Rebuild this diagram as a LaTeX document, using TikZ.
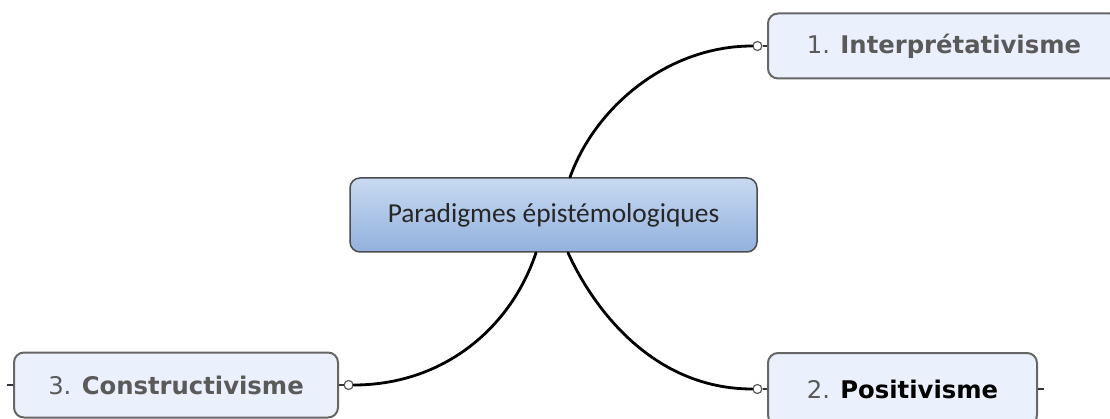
\documentclass[tikz,border=0pt]{standalone}
\usepackage{fontspec}
\setmainfont{DejaVu Sans}
\newfontfamily\hubfont{Carlito}
\usetikzlibrary{positioning,calc,shapes.geometric}
\definecolor{hubtop}{HTML}{C8DAF1}
\definecolor{hubbottom}{HTML}{92B1DD}
\definecolor{leafback}{HTML}{EAF1FD}
\definecolor{numgray}{HTML}{5A5A5A}

\begin{document}
\begin{tikzpicture}[x=1pt,y=-1pt,
	hub/.style={draw=black!70, line width=1.5pt, rounded corners=10pt, top color=hubtop, bottom color=hubbottom, minimum width=407pt, minimum height=74pt, inner sep=0pt, font=\hubfont\fontsize{27.4}{30}\selectfont, text=black!85},
	leaf/.style={draw=black!60, line width=2pt, rounded corners=10pt, fill=leafback, minimum height=65pt, inner sep=0pt, font=\fontsize{24.3}{28}\selectfont, text=numgray},
	knob/.style={circle, draw=black!65, fill=white, line width=1.2pt, minimum size=9pt, inner sep=0pt},
	branch/.style={line width=2.8pt, line cap=round},
	stub/.style={line width=1.5pt, black!80}]
				\useasboundingbox (0,0) rectangle (1110,419);\clip (0,0) rectangle (1110,419);
				\node[hub] (hub) at (553.5,215) {Paradigmes épistémologiques};
				\node[leaf, minimum width=352pt] (interp) at (944,46) {1. \textbf{Interprétativisme}};
				\node[leaf, minimum width=269pt, minimum height=72pt] (posit) at (902.5,389) {2. \textbf{\color{black}Positivisme}};
				\node[leaf, minimum width=324pt] (constr) at (176,385) {3. \textbf{Constructivisme}};
				\node[knob, left=4.5pt of interp.west] (k1) {};\node[knob, left=4.5pt of posit.west] (k2) {};\node[knob, right=4.5pt of constr.east] (k3) {};
				\draw[stub] (k1) -- (interp.west);\draw[stub] (k2) -- (posit.west);\draw[stub] (k3) -- (constr.east);
				\draw[stub] (posit.east) -- ++(6,0);\draw[stub] (constr.west) -- ++(-6,0);
				\draw[branch] ($(hub.north)+(16.5,0)$) .. controls +(25,-70) and +(-85,0) .. (k1.west);
				\draw[branch] ($(hub.south)+(14.5,0)$) .. controls +(25,55) and +(-100,0) .. (k2.west);
				\draw[branch] ($(hub.south)+(-17.5,0)$) .. controls +(-25,75) and +(90,0) .. (k3.east);
			\end{tikzpicture}
\end{document}
